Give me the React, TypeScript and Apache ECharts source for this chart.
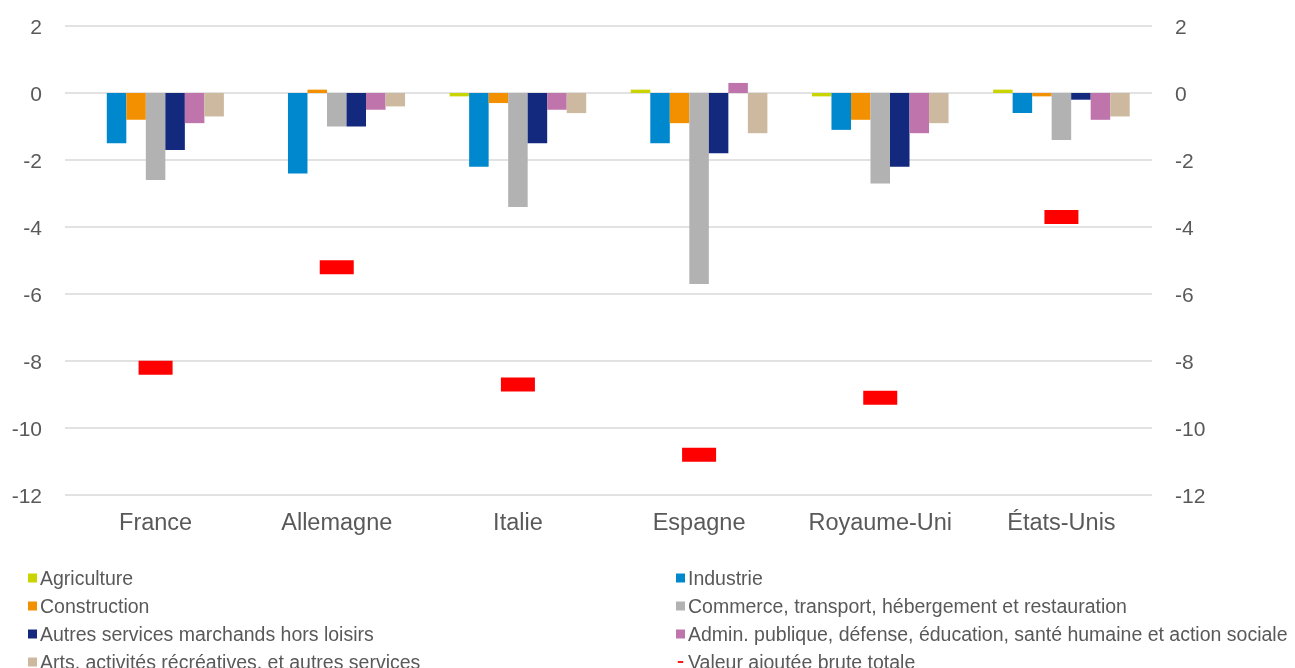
import React, { useEffect, useRef } from "react";
import * as echarts from "echarts";

const categories = ["France", "Allemagne", "Italie", "Espagne", "Royaume-Uni", "États-Unis"];

const seriesNames = [
  "Agriculture",
  "Industrie",
  "Construction",
  "Commerce, transport, hébergement et restauration",
  "Autres services marchands hors loisirs",
  "Admin. publique, défense, éducation, santé humaine et action sociale",
  "Arts, activités récréatives, et autres services",
];
const totalName = "Valeur ajoutée brute totale";

const agriculture = [0, 0, -0.1, 0.1, -0.1, 0.1];
const industrie = [-1.5, -2.4, -2.2, -1.5, -1.1, -0.6];
const construction = [-0.8, 0.1, -0.3, -0.9, -0.8, -0.1];
const commerce = [-2.6, -1.0, -3.4, -5.7, -2.7, -1.4];
const autresServices = [-1.7, -1.0, -1.5, -1.8, -2.2, -0.2];
const admin = [-0.9, -0.5, -0.5, 0.3, -1.2, -0.8];
const arts = [-0.7, -0.4, -0.6, -1.2, -0.9, -0.7];
const totalVA = [-8.2, -5.2, -8.7, -10.8, -9.1, -3.7];

const yTicks = { min: -12, max: 2, interval: 2 };

const colors = ["#c9d400", "#0088ce", "#f39000", "#b2b2b2", "#13297e", "#bf74ab", "#cdb99f"];
const FONT = "'Liberation Sans', Arial, sans-serif";
const TEXT = "#595959";

export default function App() {
  const ref = useRef<HTMLDivElement>(null);
  useEffect(() => {
    if (!ref.current) return;
    const chart = echarts.init(ref.current, undefined, { renderer: "svg" });
    const values = [agriculture, industrie, construction, commerce, autresServices, admin, arts];
    const barSeries = values.map((v, i) => ({
      name: seriesNames[i],
      type: "bar",
      data: v,
      barGap: "0%",
      barCategoryGap: "24.6%",
      itemStyle: { color: colors[i] },
      yAxisIndex: 0,
    }));
    const legendCommon = {
      orient: "vertical",
      itemWidth: 9,
      itemHeight: 9,
      itemGap: 8,
      height: 130,
      icon: "rect",
      textStyle: { color: TEXT, fontSize: 19.5, fontFamily: FONT, lineHeight: 20, padding: [0, 0, 0, -2] },
      selectedMode: false,
    };
    chart.setOption({
      animation: false,
      textStyle: { fontFamily: FONT },
      grid: { left: 65, right: 143, top: 26, bottom: 173 },
      legend: [
        {
          ...legendCommon,
          left: 23,
          top: 563,
          data: [seriesNames[0], seriesNames[2], seriesNames[4], seriesNames[6]],
        },
        {
          ...legendCommon,
          left: 671,
          top: 563,
          data: [
            seriesNames[1],
            seriesNames[3],
            seriesNames[5],
            { name: totalName, icon: "path://M0,0M10,10M2,4h6v2h-6z" },
          ],
        },
      ],
      xAxis: {
        type: "category",
        data: categories,
        axisLine: { show: false, onZero: false },
        axisTick: { show: false },
        axisLabel: { color: TEXT, fontSize: 23.5, fontFamily: FONT, margin: 15, interval: 0 },
      },
      yAxis: [
        {
          type: "value",
          min: yTicks.min,
          max: yTicks.max,
          interval: yTicks.interval,
          axisLine: { show: false },
          axisTick: { show: false },
          axisLabel: { color: TEXT, fontSize: 21, fontFamily: FONT, margin: 23 },
          splitLine: { lineStyle: { color: "#d9d9d9", width: 1.5 } },
        },
        {
          type: "value",
          position: "right",
          min: yTicks.min,
          max: yTicks.max,
          interval: yTicks.interval,
          axisLine: { show: false },
          axisTick: { show: false },
          axisLabel: { color: TEXT, fontSize: 21, fontFamily: FONT, margin: 23 },
          splitLine: { show: false },
        },
      ],
      series: [
        ...barSeries,
        {
          name: totalName,
          type: "scatter",
          data: totalVA,
          symbol: "rect",
          symbolSize: [34, 14],
          itemStyle: { color: "#ff0000", opacity: 1 },
          yAxisIndex: 0,
          z: 5,
        },
      ],
    });
    return () => chart.dispose();
  }, []);
  return <div ref={ref} style={{ position: "fixed", left: 0, top: 0, width: 1295, height: 668 }} />;
}
